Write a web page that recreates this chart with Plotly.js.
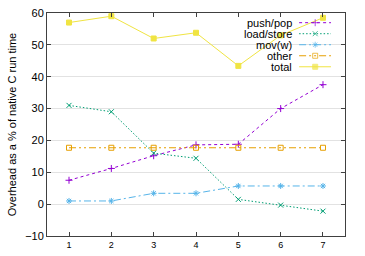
<!DOCTYPE html>
<html><head><meta charset="utf-8">
<script src="https://cdn.plot.ly/plotly-3.0.1.min.js"></script>
<style>html,body{margin:0;padding:0;background:#fff}#c{width:365px;height:256px}</style>
</head><body><div id="c"></div>
<script>
const xs = [1, 2, 3, 4, 5, 6, 7];
const pushPop = [7.5, 11.2, 15.2, 18.6, 18.8, 30, 37.5];
const loadStore = [31, 29, 16, 14.4, 1.5, -0.3, -2.2];
const movW = [1, 1, 3.4, 3.4, 5.7, 5.7, 5.7];
const other = [17.7, 17.7, 17.7, 17.7, 17.7, 17.7, 17.7];
const total = [57, 59, 52, 53.8, 43.4, 53, 58.5];
const names = ['push/pop', 'load/store', 'mov(w)', 'other', 'total'];
const colors = ['#9400D3', '#009E73', '#56B4E9', '#E69F00', '#F0E442'];
const dashes = ['3px,3px', '1.5px,2px', '7px,3px,2px,3px', '7px,3px,2px,3px,2px,3px', 'solid'];
const symbols = ['cross-thin-open', 'x-thin-open', 'asterisk-open', 'square-open', 'square'];
const sizes = [5, 5, 5, 5, 5];
const series = [pushPop, loadStore, movW, other, total];
const yTicks = [-10, 0, 10, 20, 30, 40, 50, 60];

const traces = [];
series.forEach((ys, i) => {
  traces.push({
    x: xs, y: ys, type: 'scatter', mode: 'lines+markers', name: names[i],
    line: {color: colors[i], width: 1, dash: dashes[i]},
    marker: {symbol: symbols[i], size: sizes[i], color: colors[i], line: {color: colors[i], width: 1}},
    showlegend: false
  });
});
// legend samples on a hidden overlay axis
const legendAnn = [];
names.forEach((n, i) => {
  traces.push({
    x: [0.846, 0.9, 0.953], y: [i, i, i], xaxis: 'x2', yaxis: 'y2', type: 'scatter', mode: 'lines+markers',
    line: {color: colors[i], width: 1, dash: dashes[i]},
    marker: {symbol: symbols[i], size: [0, sizes[i], 0], color: colors[i], line: {color: colors[i], width: 1}},
    showlegend: false, hoverinfo: 'skip'
  });
  legendAnn.push({text: n, xref: 'paper', yref: 'y2', x: 0.829, y: i, xanchor: 'right', yanchor: 'middle',
    showarrow: false, font: {family: 'Liberation Sans, Arial, sans-serif', size: 11, color: '#000'}});
});

const layout = {
  width: 365, height: 256,
  margin: {l: 47, r: 20, t: 13, b: 20},
  paper_bgcolor: '#fff', plot_bgcolor: '#fff',
  font: {family: 'Liberation Sans, Arial, sans-serif', size: 9, color: '#000'},
  showlegend: false,
  xaxis: {range: [0.48, 7.52], tickvals: xs, ticks: 'inside', ticklen: 4, tickcolor: '#404040',
    showline: true, linecolor: '#404040', linewidth: 1, mirror: 'ticks', showgrid: false, zeroline: false,
    tickfont: {size: 9}},
  yaxis: {range: [-10, 60], tickvals: yTicks, ticks: 'inside', ticklen: 4, tickcolor: '#404040',
    showline: true, linecolor: '#404040', linewidth: 1, mirror: 'ticks', showgrid: true, gridcolor: '#e2e2e2',
    zeroline: false, tickfont: {size: 11},
    title: {text: 'Overhead as a % of native C run time', font: {size: 11}, standoff: 6}},
  xaxis2: {overlaying: 'x', range: [0, 1], visible: false, fixedrange: true},
  yaxis2: {overlaying: 'y', range: [19.36, -0.88], visible: false, fixedrange: true},
  shapes: [{type: 'rect', layer: 'between', xref: 'paper', yref: 'paper', x0: 0.607, x1: 1, y0: 0.735, y1: 1,
    fillcolor: '#fff', line: {width: 0}}],
  annotations: legendAnn
};
Plotly.newPlot('c', traces, layout, {displayModeBar: false, staticPlot: true});
</script></body></html>
